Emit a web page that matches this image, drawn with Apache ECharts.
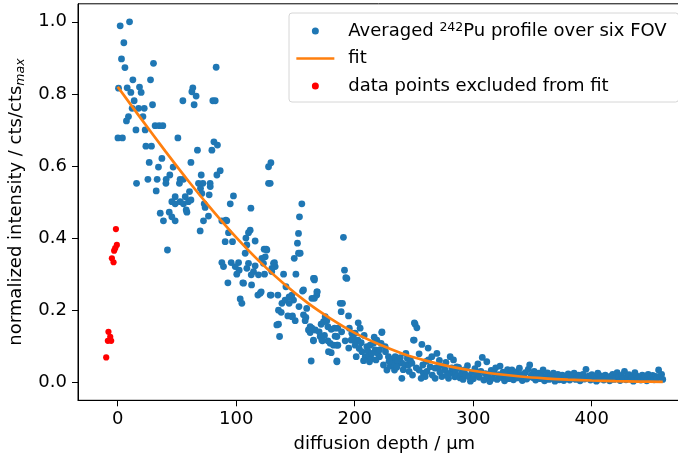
<!DOCTYPE html>
<html>
<head>
<meta charset="utf-8">
<script src="https://cdn.jsdelivr.net/npm/echarts@6/dist/echarts.min.js"></script>
<style>
html,body{margin:0;padding:0;background:#fff;}
#c{width:678px;height:459px;}
</style>
</head>
<body>
<div id="c"></div>
<script>
// ---------- data ----------
var blueName = 'Averaged 242Pu profile over six FOV';
var fitName = 'fit';
var redName = 'data points excluded from fit';

var xTicks = [0, 100, 200, 300, 400];
var yTicks = [0.0, 0.2, 0.4, 0.6, 0.8, 1.0];

var blueData = [
 [2.1,0.989],[10,1.0],[5.2,0.942],[3.2,0.897],[6.1,0.873],[30.2,0.885],[83.1,0.874],[12.8,0.839],[27.7,0.839],[0.7,0.816],
 [8,0.817],[11.1,0.804],[18.4,0.819],[19.8,0.804],[63.4,0.817],[62.6,0.806],[66.2,0.794],[64.5,0.770],[55,0.781],[80.3,0.781],
 [82.3,0.781],[13.9,0.781],[29.4,0.770],[12.2,0.760],[17.6,0.760],[22.4,0.760],[21.3,0.737],[9.1,0.737],[7.4,0.725],[31.6,0.712],
 [35,0.712],[38.1,0.712],[15.4,0.700],[23.2,0.700],[0.2,0.678],[4,0.678],[50.8,0.678],[81.2,0.667],[79.5,0.644],[84.2,0.658],
 [23.8,0.655],[28.5,0.655],[67.3,0.644],[37.3,0.621],[61.8,0.610],[26.6,0.610],[34.4,0.597],[46.8,0.597],[70.5,0.575],[83.7,0.575],
 [44,0.575],[25.5,0.563],[33.3,0.563],[15.9,0.552],[40.9,0.563],[40.7,0.552],[52.7,0.563],[55.5,0.563],[52.1,0.552],[68.2,0.552],
 [71.9,0.552],[78.1,0.543],[32.5,0.531],[48.5,0.515],[57,0.515],[69.9,0.538],[86.5,0.587],[60.6,0.529],[77.2,0.520],
 [97.7,0.517],[95,0.495],[112.4,0.483],[92.1,0.448],[127.3,0.552],[128.7,0.552],[127.3,0.598],[129.3,0.609],[155.4,0.495],[153.4,0.459],
 [111.8,0.422],[69.6,0.420],[35.9,0.469],[38.6,0.448],[43.5,0.472],[45.7,0.459],[48.5,0.448],[45.7,0.501],[48.5,0.495],[52.7,0.501],
 [55.5,0.495],[59.7,0.501],[58.4,0.472],[73.8,0.485],[76.6,0.461],[72.4,0.448],[57.8,0.478],[61.8,0.506],[73,0.495],[71,0.524],
 [78,0.552],[87.9,0.448],[42,0.367],
 [91.3,0.450],[93.5,0.415],[90.7,0.39],[96.9,0.39],[110.4,0.415],[108.2,0.40],[109,0.381],[116,0.392],[123.6,0.369],[125.3,0.369],
 [107.6,0.358],[152.6,0.413],[152.6,0.358],[154,0.358],[149,0.344],[87.9,0.332],[89.3,0.321],[95.8,0.332],[102,0.332],[99.2,0.321],
 [102.5,0.311],[121.7,0.344],[116,0.323],[114.6,0.307],[112.7,0.298],[118.8,0.298],[132.3,0.332],[132.9,0.321],[130,0.307],[140,0.300],
 [150.4,0.300],[166,0.288],[123.9,0.300],[93,0.276],[105.6,0.276],[103.4,0.231],[104.8,0.219],[118.3,0.242],[121.1,0.251],[129.5,0.242],
 [135.2,0.242],[138.6,0.219],[141.3,0.228],[144.7,0.237],[148.4,0.228],[144.7,0.219],[147,0.242],[138,0.194],[135.7,0.161],[136.6,0.127],
 [143.6,0.184],[147.5,0.184],[149.8,0.171],[156.8,0.187],[158.8,0.180],[158.2,0.171],[156,0.253],[166,0.284],[166,0.233],[168,0.242],
 [163.9,0.233],[168.4,0.251],[162.4,0.154],[161,0.145],[162.4,0.138],[165.2,0.115],[163.3,0.059],[171.7,0.161],[173.7,0.168],[175.1,0.182],
 [176.5,0.171],[177.4,0.154],[180.2,0.147],[183,0.150],[185.8,0.150],[172.8,0.115],[177.4,0.115],[179.3,0.108],[182.1,0.103],[185,0.103],
 [183.5,0.128],[180.2,0.082],[185,0.059],[187.8,0.219],
 [106.2,0.275],[109,0.316],[110.4,0.330],[120.3,0.247],[125.9,0.367],[124.5,0.348],[123,0.330],[130.1,0.316],[131.5,0.330],[128.7,0.242],
 [135.7,0.200],[134.3,0.159],[147,0.182],[151.7,0.386],[156.8,0.256],[165.2,0.288],[168.1,0.251],[163.9,0.150],[166.7,0.145],[165.2,0.117],
 [170.9,0.127],[172.3,0.117],[177.9,0.085],
 [190.5,0.402],[191.4,0.311],[193.4,0.288],[192.5,0.290],[189.7,0.219],[188.6,0.196],[194.8,0.184],[185,0.127],[185.8,0.103],[185,0.057],
 [197.6,0.136],[200.4,0.136],[204.6,0.150],[197,0.117],[199.8,0.117],[202.7,0.117],[200.4,0.103],[203.8,0.094],[206.1,0.085],[201.3,0.071],
 [208.9,0.071],[211.6,0.076],[212.5,0.057],[210.3,0.099],[213.1,0.103],[215.9,0.108],[218.7,0.117],[222.9,0.138],[217.3,0.090],[219.6,0.080],
 [220.9,0.071],[225.7,0.099],[222.3,0.108],[224.3,0.048],[227.2,0.034],[230,0.045],[228.5,0.071],[231.4,0.064],[234.2,0.071],[233.6,0.034],
 [237,0.053],[239.8,0.053],[242.6,0.048],[245.4,0.048],[248.3,0.053],[239.8,0.011],[243.2,0.080],[250.2,0.117],[251,0.161],[252.5,0.151],
 [250.4,0.165],[256.7,0.105],[254.4,0.079],[254.4,0.034],[258,0.025],[259.5,0.016],[256.1,0.011],[262.3,0.062],[265.1,0.071],[269.4,0.080],
 [263.7,0.043],[267.9,0.039],[270.7,0.043],[276.4,0.034],[280.6,0.025],[283.4,0.029],[286.2,0.043],[280.6,0.071],[283.4,0.062],[267.9,0.011],
 [273.6,0.016],[279.2,0.011],[249.6,0.117],[223,0.140],
 [195.5,0.150],[207.5,0.060],[214,0.065],[226,0.085],[232.5,0.050],[236,0.060],[246,0.030],[248.8,0.020],[252,0.040],[261,0.030],
 [265.5,0.020],[272,0.028],[275,0.045],[278,0.020],[262,0.095],[260.5,0.058],[271.5,0.061],[277,0.055],[282,0.040],[284.5,0.015],
 [244.5,0.066],[241,0.035],[216.5,0.125],[203,0.165],[208,0.130],[221,0.090],
 [198.5,0.128],[205.5,0.110],[211,0.088],[214.5,0.080],[218,0.062],[229,0.058],[235.5,0.042],[238.5,0.068],[247,0.062],[257.5,0.048],
 [153,0.210],[159.5,0.205],[170,0.140],[174.5,0.130],[189,0.140],[192,0.115],[195,0.095],[113,0.270],[100.5,0.300],[142,0.265],
 [285,0.030],[286.5,0.018],[287.7,0.041],[289,0.012],[290.2,0.025],[291.5,0.008],[292.7,0.034],[294,0.020],[295.2,0.046],[296.5,0.015],
 [297.7,0.003],[299,0.027],[300.2,0.010],[301.5,0.038],[302.7,0.022],[304,0.051],[305.2,0.014],[306.5,0.030],[307.7,0.069],[309,0.006],
 [310.2,0.024],[311.5,0.057],[312.7,0.017],[314,0.002],[315.2,0.033],[316.5,0.011],[317.7,0.026],[319,0.040],[320.2,0.008],[321.5,0.021],
 [322.7,0.045],[324,0.013],[325.2,0.028],[326.5,0.004],[327.7,0.019],[329,0.035],[330.2,0.010],[331.5,0.024],[332.7,0.034],[334,0.007],
 [335.2,0.018],[336.5,0.029],[337.7,0.012],[339,0.039],[340.2,0.022],[341.5,0.005],[342.7,0.016],[344,0.027],[345.2,0.009],[346.5,0.036],
 [347.7,0.048],[349,0.020],[350.2,0.013],[351.5,0.030],[352.7,0.006],[354,0.017],[355.2,0.025],[356.5,0.010],[357.7,0.021],[359,0.034],
 [360.2,0.004],[361.5,0.015],[362.7,0.026],[364,0.008],[365.2,0.019],[366.5,0.012],[367.7,0.025],[369,0.003],[370.2,0.016],[371.5,0.022],
 [372.7,0.007],[374,0.013],[375.2,0.020],[376.5,0.005],[377.7,0.017],[379,0.010],[380.2,0.023],[381.5,0.006],[382.7,0.014],[384,0.019],
 [385.2,0.025],[386.5,0.008],[387.7,0.012],[389,0.020],[390.2,0.004],[391.5,0.015],[392.7,0.022],[394,0.009],[395.2,0.036],[396.5,0.013],
 [397.7,0.018],[399,0.006],[400.2,0.021],[401.5,0.011],[402.7,0.016],[404,0.003],[405.2,0.025],[406.5,0.009],[407.7,0.018],[409,0.013],
 [410.2,0.006],[411.5,0.020],[412.7,0.010],[414,0.015],[415.2,0.004],[416.5,0.017],[417.7,0.022],[419,0.008],[420.2,0.012],[421.5,0.027],
 [422.7,0.015],[424,0.005],[425.2,0.019],[426.5,0.011],[427.7,0.030],[429,0.007],[430.2,0.016],[431.5,0.021],[432.7,0.009],[434,0.014],
 [435.2,0.003],[436.5,0.027],[437.7,0.018],[439,0.010],[440.2,0.015],[441.5,0.006],[442.7,0.020],[444,0.012],[445.2,0.017],[446.5,0.004],
 [447.7,0.022],[449,0.009],[450.2,0.014],[451.5,0.019],[452.7,0.007],[454,0.016],[455.2,0.011],[456.5,0.034],[457.7,0.016],[459,0.022],
 [460,0.008]
];

var redData = [
 [-1.5,0.425],[-0.7,0.381],[-2.1,0.372],[-3,0.365],[-4.9,0.344],[-3.5,0.333],
 [-7.8,0.140],[-6.3,0.126],[-8.3,0.115],[-5.5,0.115],[-9.7,0.069]
];

var fitX = [0,20,40,60,80,100,120,140,160,180,200,220,240,260,280,300,320,340,360,380,400,420,440,460];
var fitY = [0.820,0.730,0.642,0.557,0.477,0.402,0.334,0.274,0.221,0.176,0.137,0.106,0.080,0.060,0.044,0.032,0.023,0.016,0.011,0.0074,0.0049,0.0032,0.0020,0.0013];

// ---------- chart ----------
var FONT = 'DejaVu Sans';
var fitData = fitX.map(function (x, i) { return [x, fitY[i]]; });

var chart = echarts.init(document.getElementById('c'), null, {renderer: 'canvas'});
chart.setOption({
  animation: false,
  backgroundColor: '#fff',
  grid: {
    left: 78, right: -12.6, top: 3.8, bottom: 58.7,
    show: true, borderColor: '#000', borderWidth: 1,
    outerBoundsMode: 'none', containLabel: false
  },
  legend: {
    orient: 'vertical',
    left: 289, top: 13,
    padding: [8, 12, 7, 6],
    itemWidth: 38, itemHeight: 7, itemGap: 9.5,
    borderColor: '#d6d6d6', borderWidth: 1, borderRadius: 3,
    backgroundColor: 'rgba(255,255,255,0.8)',
    lineStyle: {width: 2.7},
    data: [
      {name: blueName, icon: 'circle'},
      {name: fitName, itemStyle: {opacity: 0}, lineStyle: {width: 2.7, color: '#ff7f0e'}},
      {name: redName, icon: 'circle'}
    ],
    formatter: function (name) {
      if (name === blueName) return '{n|Averaged }{sup|242}{n|Pu profile over six FOV}';
      return '{n|' + name + '}';
    },
    textStyle: {
      color: '#000', fontFamily: FONT, fontSize: 18, padding: [0, 0, 0, 9],
      rich: {
        n: {fontFamily: FONT, fontSize: 18, lineHeight: 20, color: '#000'},
        sup: {fontFamily: FONT, fontSize: 12.5, lineHeight: 20, verticalAlign: 'top', color: '#000', padding: [0, 0, 6, 0]}
      }
    }
  },
  xAxis: {
    type: 'value', min: -33.5, max: 483.5,
    name: 'diffusion depth / µm', nameLocation: 'middle', nameGap: 35,
    nameTextStyle: {fontFamily: FONT, fontSize: 18, color: '#000'},
    axisLine: {show: true, onZero: false, lineStyle: {color: '#000', width: 1}},
    axisTick: {show: true, length: 6, lineStyle: {color: '#000', width: 1}, customValues: xTicks},
    axisLabel: {fontFamily: FONT, fontSize: 18, color: '#000', margin: 10, customValues: xTicks,
      formatter: function (v) { return String(v); }},
    splitLine: {show: false}
  },
  yAxis: {
    type: 'value', min: -0.05, max: 1.05,
    name: '{a|normalized intensity / cts/cts}{s|max}', nameLocation: 'middle', nameGap: 48, nameRotate: 90,
    nameTextStyle: {fontFamily: FONT, fontSize: 18, color: '#000',
      rich: {
        a: {fontFamily: FONT, fontSize: 18, color: '#000', lineHeight: 22},
        s: {fontFamily: FONT, fontSize: 12.5, fontStyle: 'italic', color: '#000', verticalAlign: 'bottom', lineHeight: 22, padding: [8, 0, 0, 0]}
      }},
    axisLine: {show: true, onZero: false, lineStyle: {color: '#000', width: 1}},
    axisTick: {show: true, length: 6, lineStyle: {color: '#000', width: 1}, customValues: yTicks},
    axisLabel: {fontFamily: FONT, fontSize: 18, color: '#000', margin: 11, customValues: yTicks,
      formatter: function (v) { return v.toFixed(1); }},
    splitLine: {show: false}
  },
  series: [
    {name: blueName, type: 'scatter', data: blueData, symbolSize: 6.8,
      itemStyle: {color: '#1f77b4', opacity: 1}},
    {name: fitName, type: 'line', data: fitData, smooth: 0.3, symbol: 'none', showSymbol: false,
      lineStyle: {color: '#ff7f0e', width: 2.7}, itemStyle: {color: '#ff7f0e'}},
    {name: redName, type: 'scatter', data: redData, symbolSize: 6.2,
      itemStyle: {color: '#ff0000', opacity: 1}}
  ]
});
</script>
</body>
</html>
